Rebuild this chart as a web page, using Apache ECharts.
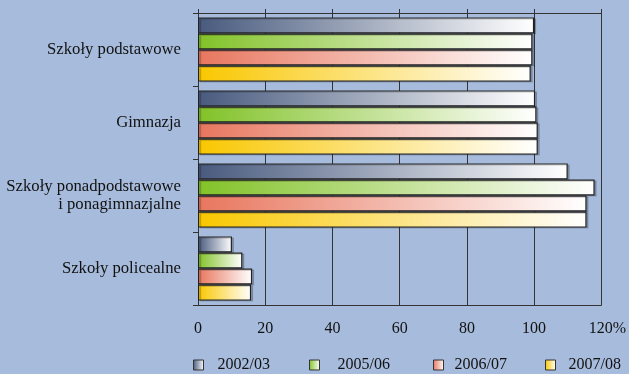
<!DOCTYPE html>
<html><head><meta charset="utf-8">
<script src="https://cdn.jsdelivr.net/npm/echarts@6/dist/echarts.min.js"></script>
<style>html,body{margin:0;padding:0;background:#a7bcdc}#c{width:629px;height:374px}</style>
</head><body><div id="c"></div>
<script>
var categories = ['Szkoły podstawowe', 'Gimnazja', 'Szkoły ponadpodstawowe\ni ponagimnazjalne', 'Szkoły policealne'];
var seriesNames = ['2002/03', '2005/06', '2006/07', '2007/08'];
var v2002 = [100.0, 100.3, 110.0, 10.1];
var v2005 = [99.5, 100.7, 118.0, 13.2];
var v2006 = [99.5, 101.1, 115.6, 16.1];
var v2007 = [99.0, 101.1, 115.6, 15.8];
var xTicks = [0, 20, 40, 60, 80, 100, 120];

var values = [v2002, v2005, v2006, v2007];
var baseColors = ['#485a7e', '#82c228', '#e8765e', '#f9c700'];
var legendLefts = [193, 309, 433, 545];
var legendPads = [9, 13, 6, 8];

function grad(c) {
  return new echarts.graphic.LinearGradient(0, 0, 1, 0, [
    {offset: 0, color: c}, {offset: 1, color: '#ffffff'}
  ]);
}
var font = '"Liberation Serif", "Times New Roman", serif';
var chart = echarts.init(document.getElementById('c'));
var series = seriesNames.map(function (n, i) {
  return {
    name: n, type: 'bar', data: values[i],
    barGap: '0%', barCategoryGap: '12%',
    itemStyle: {color: grad(baseColors[i]), borderColor: '#222', borderWidth: 1.2,
      shadowColor: 'rgba(0,0,0,0.2)', shadowOffsetX: 2, shadowOffsetY: 1, shadowBlur: 0},
    emphasis: {disabled: true}
  };
});
var legends = seriesNames.map(function (n, i) {
  return {
    data: [n], left: legendLefts[i], top: 357, padding: 0, icon: 'rect',
    itemWidth: 10, itemHeight: 10,
    itemStyle: {borderColor: '#333', borderWidth: 1},
    textStyle: {fontFamily: font, fontSize: 16, color: '#111', padding: [0, 0, 0, legendPads[i]]}
  };
});
chart.setOption({
  backgroundColor: '#a7bcdc',
  animation: false,
  textStyle: {fontFamily: font},
  legend: legends,
  grid: {left: 198, right: 27, top: 13, bottom: 69},
  xAxis: [{
    type: 'value', min: xTicks[0], max: xTicks[xTicks.length - 1], interval: xTicks[1] - xTicks[0],
    axisLine: {show: true, lineStyle: {color: '#333'}},
    axisTick: {show: false},
    splitLine: {show: true, lineStyle: {color: '#333', width: 1}},
    axisLabel: {margin: 16, fontFamily: font, fontSize: 16, color: '#111',
      formatter: function (v) { return v === 120 ? '{p|120%}' : String(v); },
      rich: {p: {fontFamily: font, fontSize: 16, color: '#111', padding: [0, 0, 0, 12]}}}
  }, {
    type: 'value', position: 'top', min: xTicks[0], max: xTicks[xTicks.length - 1], interval: xTicks[1] - xTicks[0],
    axisLine: {show: true, lineStyle: {color: '#333'}},
    axisTick: {show: true, length: 4, lineStyle: {color: '#333'}},
    splitLine: {show: false}, axisLabel: {show: false}
  }],
  yAxis: {
    type: 'category', data: categories, inverse: true,
    axisLine: {show: true, lineStyle: {color: '#333'}},
    axisTick: {show: true, length: 5, lineStyle: {color: '#333'}},
    axisLabel: {margin: 17, fontFamily: font, fontSize: 16.7, color: '#111', lineHeight: 18, align: 'right'}
  },
  series: series
});
</script>
</body></html>
